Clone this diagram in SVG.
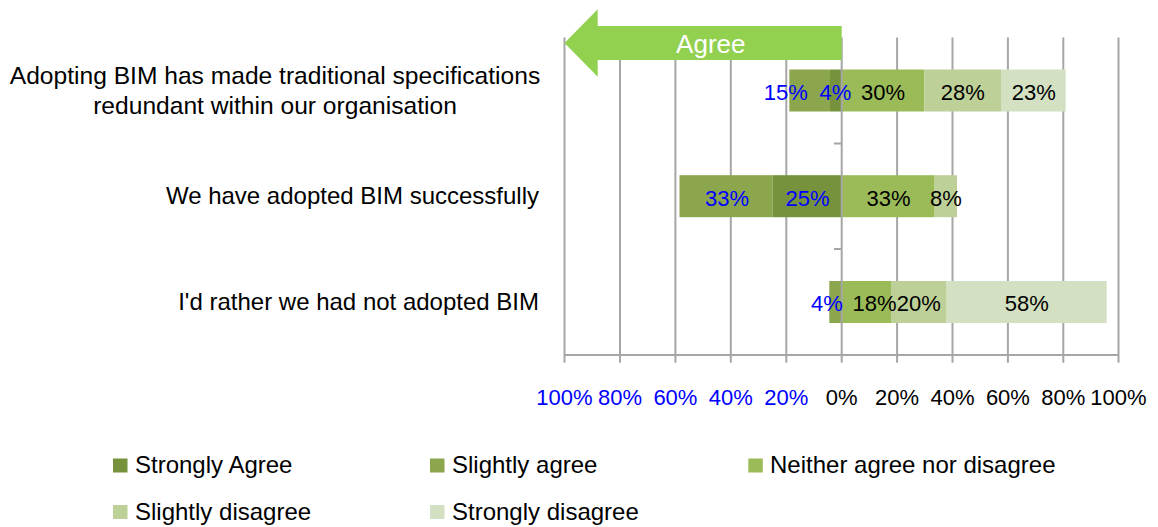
<svg xmlns="http://www.w3.org/2000/svg" width="1158" height="527" viewBox="0 0 1158 527">
<style>
.grid{stroke:#A6A6A6;stroke-width:2;fill:none}
.sa{fill:#76923C}.sl{fill:#8BA64D}.ne{fill:#9BBB59}.sd{fill:#BDD097}.sdd{fill:#D3E0C1}
text{font-family:"Liberation Sans",Arial,sans-serif}
.num{font-size:22px;text-anchor:middle;fill:#000}
.blue{fill:#0000FF}
.lab{font-size:24px;fill:#000}
</style>
<rect width="1158" height="527" fill="#fff"/>
<g id="gridlines">
<path class="grid" d="M564.5 37.6V362.7M620 37.6V362.7M675.4 37.6V362.7M730.8 37.6V362.7M786.3 37.6V362.7M897.1 37.6V362.7M952.5 37.6V362.7M1007.9 37.6V362.7M1063.3 37.6V362.7M1118.5 37.6V362.7M564.5 355H1118.5"/>
</g>
<g id="row1">
<rect class="sl" x="789.3" y="69.5" width="40.7" height="42"/>
<rect class="sa" x="830" y="69.5" width="11.7" height="42"/>
<rect class="ne" x="841.7" y="69.5" width="82.6" height="42"/>
<rect class="sd" x="924.3" y="69.5" width="76.7" height="42"/>
<rect class="sdd" x="1001" y="69.5" width="64.7" height="42"/>
</g>
<g id="row2">
<rect class="sl" x="679.5" y="175.2" width="93" height="42"/>
<rect class="sa" x="772.5" y="175.2" width="69.2" height="42"/>
<rect class="ne" x="841.7" y="175.2" width="92.3" height="42"/>
<rect class="sd" x="934" y="175.2" width="23" height="42"/>
</g>
<g id="row3">
<rect class="sl" x="829.3" y="281" width="12.4" height="42"/>
<rect class="ne" x="841.7" y="281" width="49.3" height="42"/>
<rect class="sd" x="891" y="281" width="55" height="42"/>
<rect class="sdd" x="946" y="281" width="160.7" height="42"/>
</g>
<g id="zero-axis">
<path class="grid" d="M841.7 37.6V362.7M834 143.4H841.7M834 249H841.7"/>
</g>
<g id="arrow">
<polygon points="564.5,43 597.7,9.3 597.7,26 841.7,26 841.7,60 597.7,60 597.7,76.7" fill="#92D050"/>
<text x="710.8" y="52.7" text-anchor="middle" font-size="26" fill="#fff">Agree</text>
</g>
<g id="data-labels">
<text class="num blue" x="785.8" y="100">15%</text>
<text class="num blue" x="835.5" y="100">4%</text>
<text class="num" x="883" y="100">30%</text>
<text class="num" x="962.8" y="100">28%</text>
<text class="num" x="1033.8" y="100">23%</text>
<text class="num blue" x="727" y="206">33%</text>
<text class="num blue" x="807.5" y="206">25%</text>
<text class="num" x="888.5" y="206">33%</text>
<text class="num" x="946" y="206">8%</text>
<text class="num blue" x="827" y="311">4%</text>
<text class="num" x="874.5" y="311">18%</text>
<text class="num" x="918.8" y="311">20%</text>
<text class="num" x="1026.7" y="311">58%</text>
</g>
<g id="category-labels">
<text class="lab" x="275" y="84" text-anchor="middle" font-size="24.6" style="font-size:24.6px">Adopting BIM has made traditional specifications</text>
<text class="lab" x="275" y="113.5" text-anchor="middle" style="font-size:24.6px">redundant within our organisation</text>
<text class="lab" x="539" y="204" text-anchor="end">We have adopted BIM successfully</text>
<text class="lab" x="539" y="310" text-anchor="end">I'd rather we had not adopted BIM</text>
</g>
<g id="axis-labels">
<text class="num blue" x="564.5" y="405">100%</text>
<text class="num blue" x="620" y="405">80%</text>
<text class="num blue" x="675.4" y="405">60%</text>
<text class="num blue" x="730.8" y="405">40%</text>
<text class="num blue" x="786.3" y="405">20%</text>
<text class="num" x="841.7" y="405">0%</text>
<text class="num" x="897.1" y="405">20%</text>
<text class="num" x="952.5" y="405">40%</text>
<text class="num" x="1007.9" y="405">60%</text>
<text class="num" x="1063.3" y="405">80%</text>
<text class="num" x="1118.5" y="405">100%</text>
</g>
<g id="legend">
<rect class="sa" x="113" y="458.5" width="14.5" height="14"/>
<text class="lab" x="135" y="473">Strongly Agree</text>
<rect class="sl" x="430" y="458.5" width="14.5" height="14"/>
<text class="lab" x="452" y="473">Slightly agree</text>
<rect class="ne" x="748.3" y="458.5" width="14.5" height="14"/>
<text class="lab" x="770" y="473">Neither agree nor disagree</text>
<rect class="sd" x="113" y="505" width="14.5" height="14"/>
<text class="lab" x="135" y="519.5">Slightly disagree</text>
<rect class="sdd" x="430" y="505" width="14.5" height="14"/>
<text class="lab" x="452" y="519.5">Strongly disagree</text>
</g>
</svg>
